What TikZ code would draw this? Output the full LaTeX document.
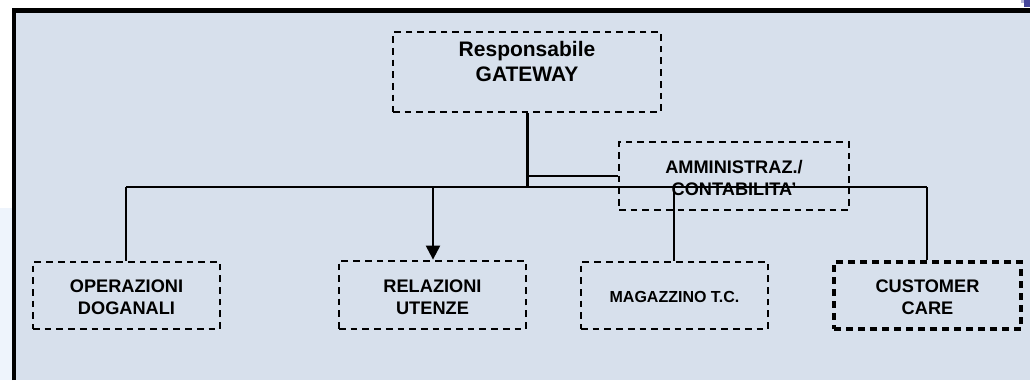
\documentclass[tikz,border=0pt]{standalone}
\usepackage{fontspec}
\setmainfont{Liberation Sans}
\usetikzlibrary{arrows.meta}
\definecolor{panel}{HTML}{D7E0EC}
\definecolor{margin}{HTML}{EEF4FC}
\definecolor{corner}{HTML}{45459A}
\tikzset{
  unitbox/.style={draw=black, line width=2.8pt, dash pattern=on 6.7pt off 5pt, fill=none, inner sep=0pt},
  boxtxt/.style={font=\bfseries\fontsize{18.2}{22}\selectfont, align=center, inner sep=0pt},
  bigtxt/.style={font=\bfseries\fontsize{21}{25}\selectfont, align=center, inner sep=0pt},
  smalltxt/.style={font=\bfseries\fontsize{16}{18}\selectfont, align=center, inner sep=0pt},
  conn/.style={draw=black, line width=2.2pt},
  stem/.style={draw=black, line width=3pt},
}
\begin{document}
\begin{tikzpicture}[x=1pt,y=-1pt]
\useasboundingbox (0,0) rectangle (1030,380);
% margins and panel
\fill[white] (0,0) rectangle (1030,380);
\fill[margin] (0,208) rectangle (14,380);
\fill[panel] (14,10.5) rectangle (1030,380);
\draw[black, line width=4.5pt] (14,380) -- (14,10.5) -- (1030,10.5);
\fill[corner] (1024,0) rectangle (1030,7);
\fill[corner!40] (1021,0) rectangle (1024,3);

% boxes
\node[unitbox, minimum width=268pt, minimum height=80pt] (gw) at (527,72) {};
\node[bigtxt] (gwt) at (527,61) {Responsabile\\GATEWAY};

\node[unitbox, minimum width=230pt, minimum height=68pt] (amm) at (734,176) {};

\node[unitbox, minimum width=187pt, minimum height=67pt] (ope) at (126.5,295.5) {};
\node[unitbox, minimum width=187pt, minimum height=68pt] (rel) at (432.5,295) {};
\node[unitbox, minimum width=187pt, minimum height=67pt] (mag) at (674.5,295.5) {};
\node[unitbox, line width=3.1pt, dash pattern=on 7pt off 5pt, minimum width=187pt, minimum height=67pt] (cus) at (927.5,295.5) {};

% connectors
\coordinate (hub) at (527,187);
\coordinate (branch) at (527,176);
\coordinate (hl) at (126,187);
\coordinate (hr) at (927,187);
\coordinate (hrel) at (433,187);
\coordinate (hmag) at (674,187);

\draw[stem] (gw.south) -- (hub);
\draw[conn] (branch) -- (amm.west);
\draw[conn, line width=2.6pt] (hl) -- (hr);
\draw[conn] (hl) -- (hl |- ope.north);
\draw[conn, -{Triangle[length=14pt,width=14pt]}] (hrel) -- (hrel |- rel.north);
\draw[conn] (hmag) -- (hmag |- mag.north);
\draw[conn] (hr) -- (hr |- cus.north);

% texts
\node[boxtxt] (ammt) at (734,177.5) {AMMINISTRAZ./\\CONTABILITA'};
\node[boxtxt] (opet) at (126.5,297) {OPERAZIONI\\DOGANALI};
\node[boxtxt] (relt) at (432.5,297) {RELAZIONI\\UTENZE};
\node[smalltxt] (magt) at (674.5,297) {MAGAZZINO T.C.};
\node[boxtxt] (cust) at (927.5,297) {CUSTOMER\\CARE};
\end{tikzpicture}
\end{document}
